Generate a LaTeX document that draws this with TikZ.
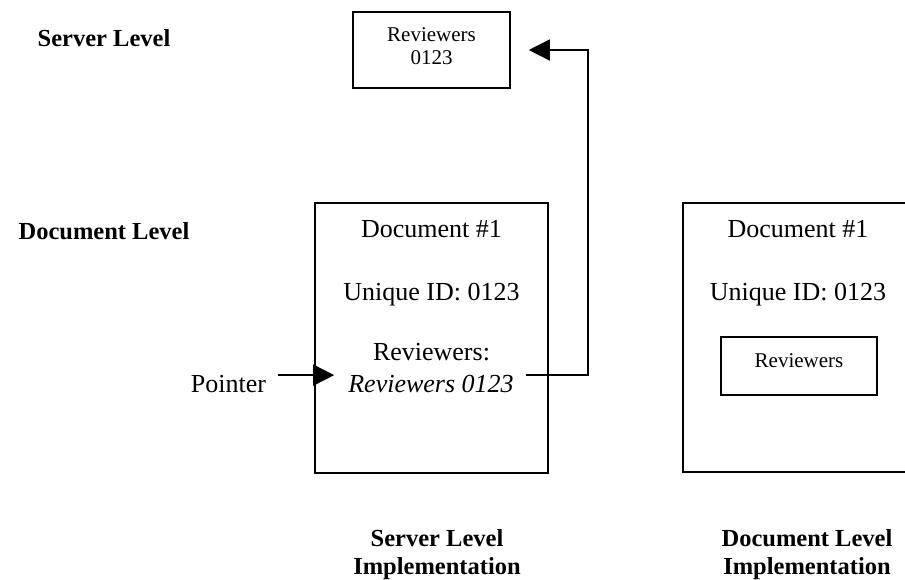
\documentclass[tikz,border=0pt]{standalone}
\usepackage{fontspec}
\setmainfont{Liberation Serif}
\usetikzlibrary{arrows.meta}
\begin{document}
\begin{tikzpicture}[x=1pt,y=-1pt,
  body/.style={font=\fontsize{26}{30}\selectfont, inner sep=0pt, anchor=base},
  small/.style={font=\fontsize{21}{25}\selectfont, inner sep=0pt, anchor=base},
  heading/.style={font=\fontsize{24.5}{28}\selectfont\bfseries, inner sep=0pt, anchor=base},
  frame/.style={draw, line width=1.6pt, inner sep=0pt},
  link/.style={line width=1.6pt, -{Triangle[length=21pt,width=21pt]}},
]
\useasboundingbox (0,0) rectangle (905,580);

% level headings on the left
\node[heading] (hserver) at (104,47) {Server Level};
\node[heading] (hdoc) at (104,240) {Document Level};

% server-level reviewers record
\node[frame, minimum width=157pt, minimum height=76pt] (srv) at (431.5,50) {};
\node[small] (srvname) at (431.5,42) {Reviewers};
\node[small] (srvid) at (431.5,65) {0123};

% document with a pointer to the server record
\node[frame, minimum width=233pt, minimum height=270pt] (doc) at (431.5,338) {};
\node[body] (doctitle) at (431.5,237) {Document \#1};
\node[body] (docid) at (431.5,300) {Unique ID: 0123};
\node[body] (docrev) at (431.5,360) {Reviewers:};
\node[body, inner xsep=12pt] (rv) at (431,392) {\itshape Reviewers 0123};
\node[body, inner xsep=12pt] (ptr) at (228.5,392) {Pointer};

\draw[link] ([yshift=8.4pt]ptr.east) coordinate (p0) -- ([xshift=20pt]doc.west |- p0);
\draw[link] ([yshift=8.4pt]rv.east) -| ([xshift=77pt]srv.east) -- ([xshift=18pt]srv.east);

% document holding its own reviewers field
\node[frame, minimum width=227pt, minimum height=269pt] (doc2) at (796.5,337.5) {};
\node[body] (doc2title) at (798,237) {Document \#1};
\node[body] (doc2id) at (798,300) {Unique ID: 0123};
\node[frame, minimum width=156pt, minimum height=58pt] (rvbox) at (799,366) {};
\node[small] (rvboxlabel) at (799,367) {Reviewers};

% captions
\node[heading] (capa1) at (437,546) {Server Level};
\node[heading] (capa2) at (437,574) {Implementation};
\node[heading] (capb1) at (807,546) {Document Level};
\node[heading] (capb2) at (807,574) {Implementation};
\end{tikzpicture}
\end{document}
